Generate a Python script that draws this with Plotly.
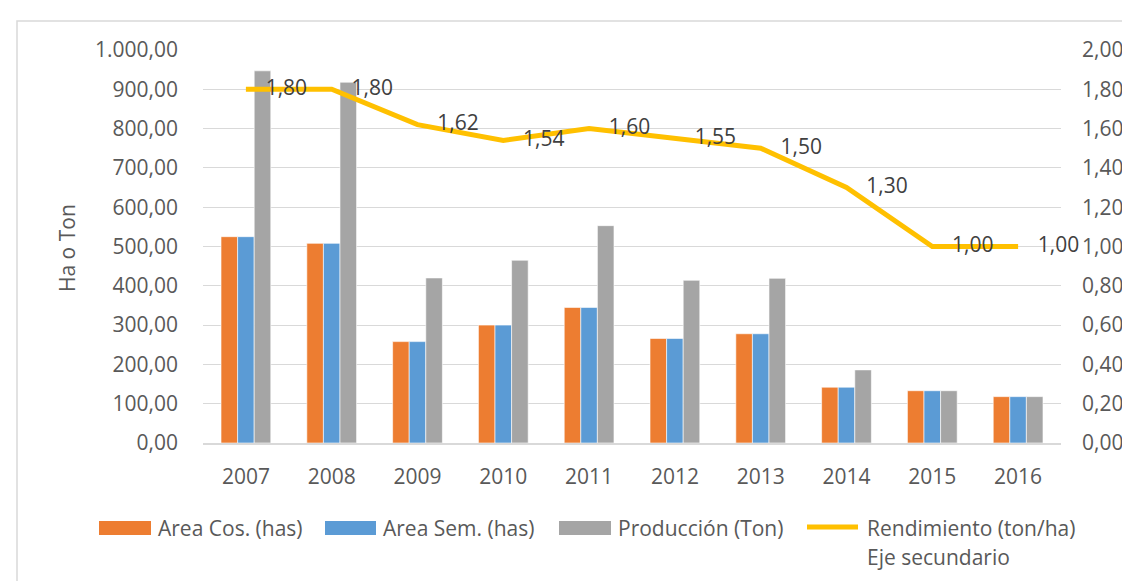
import plotly.graph_objects as go

# Data
years = ["2007", "2008", "2009", "2010", "2011", "2012", "2013", "2014", "2015", "2016"]
area_cos = [525, 508, 258, 300, 345, 266, 278, 142, 133, 118]
area_sem = [525, 508, 258, 300, 345, 266, 278, 142, 133, 118]
produccion = [947, 918, 420, 465, 553, 414, 419, 186, 133, 118]
rendimiento = [1.80, 1.80, 1.62, 1.54, 1.60, 1.55, 1.50, 1.30, 1.00, 1.00]

series_names = ["Area Cos. (has)", "Area Sem. (has)", "Producción (Ton)"]
line_name = ["Rendimiento (ton/ha)", "Eje secundario"]
colors = ["#ED7D31", "#5B9BD5", "#A5A5A5"]
line_color = "#FFC000"

FONT = "'Open Sans', 'Noto Sans', sans-serif"
TXT = "#595959"
GRID = "#d9d9d9"
FS = 21

# plot area in pixels (for placing the hand-drawn legend / border)
L, R, T, B = 195, 1053, 42, 435
def px(x):
    return (x - L) / (R - L)
def py(y):
    return (B - y) / (B - T)

fig = go.Figure()

for name, vals, color in zip(series_names, [area_cos, area_sem, produccion], colors):
    fig.add_trace(go.Bar(
        x=years, y=vals, name=name,
        marker=dict(color=color, line=dict(color="white", width=0.6)),
        yaxis="y",
    ))

fig.add_trace(go.Scatter(
    x=years, y=rendimiento, name=" ".join(line_name),
    mode="lines+markers+text", yaxis="y2",
    line=dict(color=line_color, width=5),
    marker=dict(size=30, color="rgba(0,0,0,0)"),
    text=[f"{v:.2f}".replace(".", ",") for v in rendimiento],
    textposition="middle right",
    textfont=dict(size=FS, color="#404040", family=FONT),
    cliponaxis=False,
))

fig.update_layout(
    width=1130, height=581,
    margin=dict(l=L, r=1130 - R, t=T, b=581 - B),
    paper_bgcolor="white", plot_bgcolor="white",
    separators=",.",
    font=dict(family=FONT, size=FS, color=TXT),
    barmode="group", bargap=0.42, bargroupgap=0,
    showlegend=False,
    xaxis=dict(
        type="category", showgrid=False, showline=True, linecolor=GRID, linewidth=1.5,
        ticks="", tickfont=dict(size=FS, color=TXT), range=[-0.5, 9.5],
        ticklabelstandoff=14,
    ),
    yaxis=dict(
        range=[0, 1000], dtick=100, tickformat=",.2f",
        showgrid=True, gridcolor=GRID, gridwidth=1.3, zeroline=False,
        ticks="", tickfont=dict(size=FS, color=TXT), ticklabelstandoff=24,
    ),
    yaxis2=dict(
        range=[0, 2], dtick=0.2, tickformat=".2f", overlaying="y", side="right",
        showgrid=False, zeroline=False, ticks="", ticklabelstandoff=20,
        tickfont=dict(size=FS, color=TXT),
    ),
)

# y axis title
fig.add_annotation(
    xref="paper", yref="paper", x=px(59), y=py(240),
    text="Ha o Ton", textangle=-90, showarrow=False,
    font=dict(size=FS, color=TXT), xanchor="center", yanchor="middle",
)

# legend, drawn by hand to get the wide Excel swatches
legend_rects = [(91, 143, 374 - 226), (317, 368, 374), (551, 603, 608)]
for (x0, x1, tx), name, color in zip(legend_rects, series_names, colors):
    fig.add_shape(type="rect", xref="paper", yref="paper",
                  x0=px(x0), x1=px(x1), y0=py(527), y1=py(513),
                  fillcolor=color, line=dict(width=0))
    fig.add_annotation(xref="paper", yref="paper", x=px(x1 + 5), y=py(520),
                       text=name, showarrow=False, xanchor="left", yanchor="middle",
                       font=dict(size=FS, color=TXT))

fig.add_shape(type="line", xref="paper", yref="paper",
              x0=px(799), x1=px(850), y0=py(519), y1=py(519),
              line=dict(color=line_color, width=5))
for i, txt in enumerate(line_name):
    fig.add_annotation(xref="paper", yref="paper", x=px(857), y=py(520 + 29 * i),
                       text=txt, showarrow=False, xanchor="left", yanchor="middle",
                       font=dict(size=FS, color=TXT))

# outer chart border (left and top visible)
fig.add_shape(
    type="rect", xref="paper", yref="paper",
    x0=px(9), x1=px(1135), y0=py(590), y1=py(13),
    line=dict(color=GRID, width=1.5), fillcolor="rgba(0,0,0,0)",
    layer="below",
)

fig.write_html("out.html")
